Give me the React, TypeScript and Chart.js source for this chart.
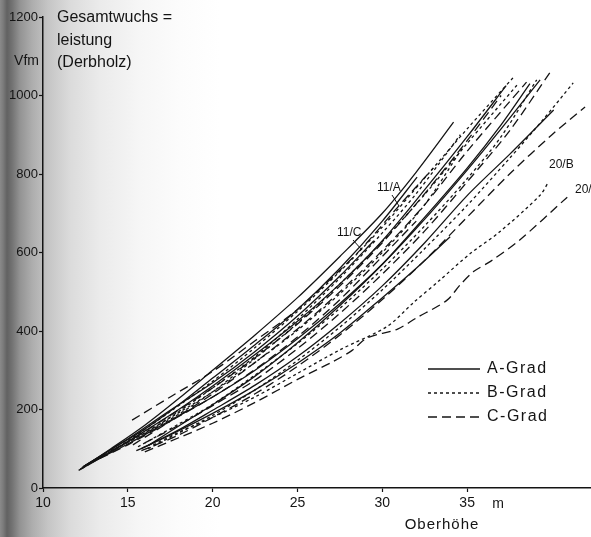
import { useEffect, useRef } from "react";
import { Chart, registerables } from "chart.js";

Chart.register(...registerables);

type Pt = [number, number];

// Oberhöhe (m) / Gesamtwuchsleistung (Vfm) — A-Grad curves (solid)
const a1: Pt[] = [[12.2, 48], [14, 100], [16, 160], [18, 228], [20, 300], [22.5, 390], [25, 485], [27.5, 590], [30, 700], [32, 805], [34.2, 932]];
const a2: Pt[] = [[12.3, 52], [14, 98], [16, 150], [18, 212], [20, 280], [22.5, 365], [25, 455], [27.5, 560], [30, 680], [32.05, 792]];
const a3: Pt[] = [[12.1, 45], [14, 92], [16, 145], [18, 200], [20, 260], [22.5, 340], [25, 425], [27.5, 520], [30, 630], [32.5, 760], [35, 895], [37.3, 1025]];
const a4: Pt[] = [[12.4, 55], [15, 112], [17.5, 172], [20, 232], [22.5, 300], [25, 380], [27.5, 470], [30, 570], [32.5, 685], [35, 810], [37, 915], [39.3, 1040]];
const a5: Pt[] = [[15.8, 100], [18, 148], [20, 198], [22.5, 262], [25, 335], [27.5, 420], [30, 515], [32.5, 625], [35, 745], [37.5, 850], [40.1, 963]];
const a6: Pt[] = [[16.2, 108], [18, 158], [20, 212], [22.5, 285], [25, 370], [27.5, 465], [30, 570], [32.5, 690], [35, 815], [37, 925], [38.7, 1030]];
const a7: Pt[] = [[15.5, 95], [17.5, 135], [20, 190], [22.5, 250], [25, 318], [27.5, 395], [30, 485], [32, 560], [34, 640]];
const a8: Pt[] = [[12.4, 55], [15, 125], [17.5, 198], [20, 268], [22.5, 348], [25, 438], [27.5, 540], [29.5, 630]];

// B-Grad curves (short dashes)
const b1: Pt[] = [[12.3, 50], [15, 120], [17.5, 195], [20, 272], [22.5, 358], [25, 450], [27.5, 552], [30, 665], [32.5, 790], [35, 915], [37.7, 1045]];
const b2: Pt[] = [[16, 138], [18, 188], [20, 245], [22.5, 330], [25, 420], [27.5, 520], [30, 628], [32.5, 748], [35, 878], [37.95, 1027]];
const b3: Pt[] = [[15.6, 105], [18, 163], [20, 213], [22.5, 288], [25, 368], [27.5, 458], [30, 558], [32.5, 668], [35, 788], [37, 895], [39.1, 1040]];
const b4: Pt[] = [[16.2, 100], [18, 140], [20, 185], [22.5, 250], [25, 325], [27.5, 410], [30, 505], [32.5, 610], [35, 720], [37.5, 840], [39.5, 940], [41.25, 1032]];
const b5: Pt[] = [[13, 70], [15.5, 128], [18, 192], [20, 245], [22.5, 320], [25, 402], [27.5, 495], [30, 600], [32.5, 722], [34.7, 865]];
const b6: Pt[] = [[16.5, 110], [18, 142], [20, 180], [22.5, 232], [25, 292], [27.5, 352], [30.3, 412], [31.8, 471], [33.4, 530], [35.2, 598], [36.9, 652], [39.3, 746], [39.8, 780]];
const b7: Pt[] = [[14, 95], [16, 140], [18, 195], [20, 255], [22.5, 335], [25, 430], [27.5, 535], [30, 650], [32, 750], [34.6, 900]];

// C-Grad curves (long dashes)
const c1: Pt[] = [[15.25, 173], [17.5, 232], [20, 297], [22.5, 375], [25, 455], [27.5, 555], [28.8, 611], [30.9, 715], [33, 815]];
const c2: Pt[] = [[15.3, 110], [17.5, 170], [20, 240], [22.5, 320], [25, 405], [27.5, 500], [30, 605], [32.5, 722], [35, 858], [38.5, 1034]];
const c3: Pt[] = [[16, 115], [18, 160], [20, 210], [22.5, 275], [25, 355], [27.5, 445], [30, 545], [32.5, 655], [35, 780], [37.5, 910], [39.9, 1060]];
const c4: Pt[] = [[15.8, 95], [18, 135], [20, 180], [22.5, 240], [25, 310], [27.5, 390], [30, 480], [32.5, 580], [35, 690], [37.5, 800], [40, 900], [41.95, 971]];
const c5: Pt[] = [[12.5, 58], [15, 118], [17.5, 185], [20, 255], [22.5, 332], [25, 418], [27.5, 515], [30, 625], [32.5, 750], [35, 885], [37, 1000]];
const c6: Pt[] = [[16, 92], [18, 128], [20, 165], [22.5, 218], [25.15, 280], [27.1, 322], [28.2, 350], [29.1, 382], [30.9, 405], [32, 433], [33.8, 478], [34.6, 518], [35.4, 552], [36.4, 578], [38.1, 632], [40.9, 741]];
const c7: Pt[] = [[12.6, 60], [15, 110], [17.5, 170], [20, 232], [22.5, 302], [25, 385], [27.5, 480], [30, 590], [32, 680]];

const gradeACurves = [a1, a2, a3, a4, a5, a6, a7, a8];
const gradeBCurves = [b1, b2, b3, b4, b5, b6, b7];
const gradeCCurves = [c1, c2, c3, c4, c5, c6, c7];

const xTicks = [10, 15, 20, 25, 30, 35];
const yTicks = [0, 200, 400, 600, 800, 1000, 1200];

const legendLabels = ["A-Grad", "B-Grad", "C-Grad"];
const titleLines = ["Gesamtwuchs =", "leistung", "(Derbholz)"];
const yUnit = "Vfm";
const xTitle = "Oberhöhe";
const xUnit = "m";

const INK = "#141414";
const DASH_A: number[] = [];
const DASH_B = [3, 3];
const DASH_C = [9, 5];

const SANS = "'Liberation Sans', Arial, sans-serif";

function toData(pts: Pt[]) {
  return pts.map(([x, y]) => ({ x, y }));
}

const paperPlugin = {
  id: "paper",
  beforeDraw(chart: any) {
    const { ctx, width, height } = chart;
    ctx.save();
    ctx.fillStyle = "#ffffff";
    ctx.fillRect(0, 0, width, height);
    const W = 220;
    const g = ctx.createLinearGradient(0, 0, W, 0);
    g.addColorStop(0, "#8a8a8a");
    g.addColorStop(3 / W, "#7c7c7c");
    g.addColorStop(7 / W, "#626262");
    g.addColorStop(12 / W, "#727272");
    g.addColorStop(20 / W, "#939393");
    g.addColorStop(32 / W, "#adadad");
    g.addColorStop(48 / W, "#c5c5c5");
    g.addColorStop(70 / W, "#dbdbdb");
    g.addColorStop(100 / W, "#ebebeb");
    g.addColorStop(140 / W, "#f6f6f6");
    g.addColorStop(180 / W, "#fcfcfc");
    g.addColorStop(1, "#ffffff");
    ctx.fillStyle = g;
    ctx.fillRect(0, 0, W, height);
    ctx.restore();
  },
  afterDraw(chart: any) {
    const { ctx } = chart;
    ctx.save();
    ctx.fillStyle = INK;
    ctx.strokeStyle = INK;
    ctx.textBaseline = "middle";

    // title block
    ctx.font = `16px ${SANS}`;
    ctx.textAlign = "left";
    const titleY = [18, 41, 63];
    titleLines.forEach((t, i) => ctx.fillText(t, 57, titleY[i]));

    // y unit
    ctx.font = `14px ${SANS}`;
    ctx.textAlign = "right";
    ctx.fillText(yUnit, 39, 61);

    // x title and unit
    ctx.font = `15px ${SANS}`;
    ctx.textAlign = "center";
    (ctx as any).letterSpacing = "1px";
    ctx.fillText(xTitle, 442, 525);
    (ctx as any).letterSpacing = "0px";
    ctx.font = `14px ${SANS}`;
    ctx.fillText(xUnit, 498, 504);

    // legend
    const dashes = [DASH_A, DASH_B, DASH_C];
    const ly = [369, 393, 417];
    legendLabels.forEach((lab, i) => {
      ctx.beginPath();
      ctx.lineWidth = 1.3;
      ctx.setLineDash(dashes[i]);
      ctx.moveTo(428, ly[i]);
      ctx.lineTo(480, ly[i]);
      ctx.stroke();
      ctx.setLineDash([]);
      ctx.font = `16px ${SANS}`;
      ctx.textAlign = "left";
      (ctx as any).letterSpacing = "1.5px";
      ctx.fillText(lab, 487, ly[i]);
      (ctx as any).letterSpacing = "0px";
    });

    // curve labels
    ctx.font = `12px ${SANS}`;
    ctx.textAlign = "left";
    ctx.fillText("11/A", 377, 188);
    ctx.fillText("11/C", 337, 233);
    ctx.fillText("20/B", 549, 165);
    ctx.fillText("20/", 575, 190);
    ctx.lineWidth = 1;
    ctx.beginPath();
    ctx.moveTo(392, 195);
    ctx.lineTo(399, 206);
    ctx.moveTo(353, 240);
    ctx.lineTo(362, 250);
    ctx.stroke();
    ctx.restore();
  },
};

export default function App() {
  const ref = useRef<HTMLCanvasElement | null>(null);

  useEffect(() => {
    if (!ref.current) return;
    const mk = (pts: Pt[], dash: number[]) => ({
      data: toData(pts),
      borderColor: INK,
      borderWidth: 1.3,
      borderDash: dash,
      pointRadius: 0,
      fill: false,
      tension: 0.3,
    });
    const datasets = [
      ...gradeACurves.map((p) => mk(p, DASH_A)),
      ...gradeBCurves.map((p) => mk(p, DASH_B)),
      ...gradeCCurves.map((p) => mk(p, DASH_C)),
    ];
    const chart = new Chart(ref.current, {
      type: "line",
      data: { datasets },
      plugins: [paperPlugin],
      options: {
        animation: false,
        responsive: false,
        devicePixelRatio: 1,
        layout: { padding: { top: 17, left: 0, right: 0, bottom: 0 } },
        plugins: { legend: { display: false }, tooltip: { enabled: false } },
        scales: {
          x: {
            type: "linear",
            min: 10,
            max: 42.3,
            afterBuildTicks: (s: any) => {
              s.ticks = xTicks.map((v) => ({ value: v }));
            },
            afterFit: (s: any) => {
              s.height = 49;
            },
            grid: { drawOnChartArea: false, tickLength: 4, color: INK, tickWidth: 1.2 },
            border: { display: true, color: INK, width: 1.5 },
            ticks: {
              color: INK,
              padding: 3,
              font: { family: SANS, size: 14 },
              maxRotation: 0,
              autoSkip: false,
              callback: (v: any) => String(v),
            },
          },
          y: {
            type: "linear",
            min: 0,
            max: 1200,
            afterBuildTicks: (s: any) => {
              s.ticks = yTicks.map((v) => ({ value: v }));
            },
            afterFit: (s: any) => {
              s.width = 43;
            },
            grid: { drawOnChartArea: false, tickLength: 4, color: INK, tickWidth: 1.2 },
            border: { display: true, color: INK, width: 1.5 },
            ticks: {
              color: INK,
              padding: 1,
              font: { family: SANS, size: 13 },
              callback: (v: any) => String(v),
            },
          },
        },
      },
    });
    return () => chart.destroy();
  }, []);

  return (
    <div style={{ width: 591, height: 537, position: "absolute", left: 0, top: 0 }}>
      <style>{"body{margin:0;}"}</style>
      <canvas ref={ref} width={591} height={537} style={{ width: 591, height: 537, display: "block" }} />
    </div>
  );
}
